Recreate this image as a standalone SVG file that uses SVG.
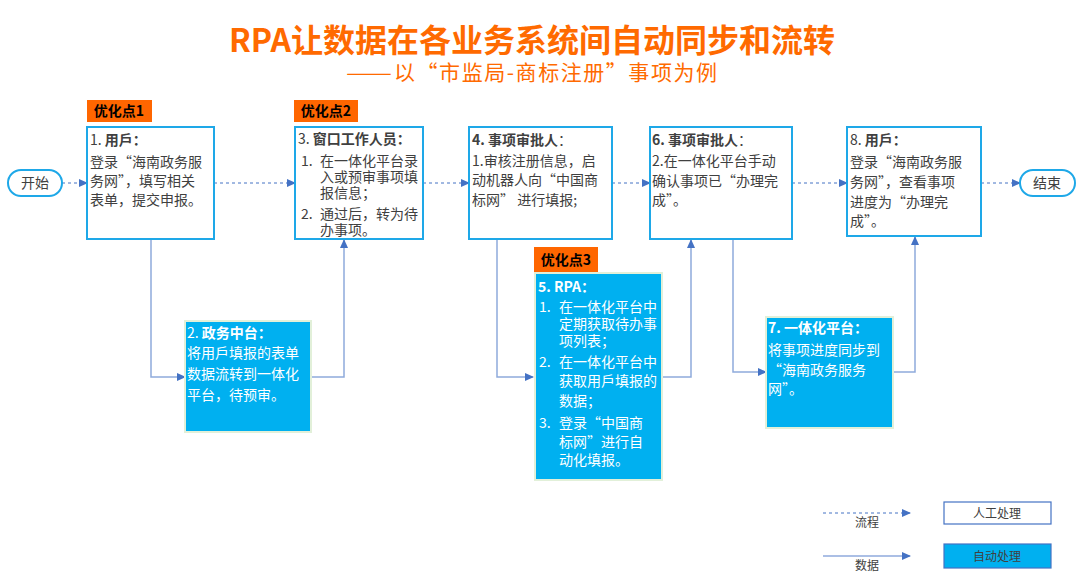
<svg xmlns="http://www.w3.org/2000/svg" width="1080" height="582" viewBox="0 0 1080 582">
<defs>
<marker id="arr" markerUnits="userSpaceOnUse" markerWidth="9" markerHeight="8" refX="8" refY="4" orient="auto">
<path d="M0,0 L9,4 L0,8 Z" fill="#4472C4"/>
</marker>
<style>
text{font-family:"Noto Sans CJK SC","Microsoft YaHei",sans-serif;font-size:14px}
.manual{fill:#fff;stroke:#1EA8E8;stroke-width:2}
.auto{fill:#00B0F0;stroke:#E2F0D9;stroke-width:2}
.badge{fill:#FF6600}
.bt{font-weight:bold;fill:#000;text-anchor:middle}
.dk{fill:#404040}
.wt{fill:#fff}
.b{font-weight:bold}
.flow{fill:none;stroke:#4472C4;stroke-width:1;stroke-dasharray:3 3;marker-end:url(#arr)}
.data{fill:none;stroke:#8FAADC;stroke-width:1.5;marker-end:url(#arr)}
.pill{fill:#fff;stroke:#1EA8E8;stroke-width:2}
.sub{font-size:21px;fill:#FF6A00}
</style>
</defs>
<rect width="1080" height="582" fill="#fff"/>
<g id="title">
<text x="532" y="52" text-anchor="middle" style="font-size:32px;font-weight:bold;fill:#FF6A00">RPA让数据在各业务系统间自动同步和流转</text>
<text x="346" y="80" class="sub" textLength="46" lengthAdjust="spacingAndGlyphs">——</text>
<text x="394" y="80" class="sub" textLength="323" lengthAdjust="spacing">以“市监局-商标注册”事项为例</text>
</g>
<g id="connectors">
<line class="flow" x1="62" y1="183" x2="87" y2="183"/>
<line class="flow" x1="214" y1="183" x2="295" y2="183"/>
<line class="flow" x1="423" y1="183" x2="469" y2="183"/>
<line class="flow" x1="612" y1="183" x2="650" y2="183"/>
<line class="flow" x1="792" y1="183" x2="847" y2="183"/>
<line class="flow" x1="981" y1="183" x2="1020" y2="183"/>
<polyline class="data" points="151,239 151,377 185,377"/>
<polyline class="data" points="311,377 344,377 344,240"/>
<polyline class="data" points="497,239 497,377 533,377"/>
<polyline class="data" points="662,377 691,377 691,240"/>
<polyline class="data" points="733,239 733,372 766,372"/>
<polyline class="data" points="893,372 915,372 915,237"/>
</g>
<g id="start">
<rect class="pill" x="8" y="170" width="54" height="26" rx="13"/>
<text x="35" y="188" text-anchor="middle" class="dk">开始</text>
</g>
<g id="end">
<rect class="pill" x="1020" y="170" width="55" height="26" rx="13"/>
<text x="1047" y="188" text-anchor="middle" class="dk">结束</text>
</g>
<g id="badge1">
<rect class="badge" x="87" y="100" width="65" height="22"/>
<text x="119" y="116" class="bt">优化点1</text>
</g>
<g id="badge2">
<rect class="badge" x="294" y="100" width="64" height="22"/>
<text x="326" y="116" class="bt">优化点2</text>
</g>
<g id="badge3">
<rect class="badge" x="534" y="247" width="64" height="25"/>
<text x="566" y="265" class="bt">优化点3</text>
</g>
<g id="node1">
<rect class="manual" x="87" y="127" width="127" height="112"/>
<text x="90" y="145" class="dk">1. <tspan class="b">用戶：</tspan></text>
<text x="90" y="167" class="dk">登录“海南政务服</text>
<text x="90" y="186" class="dk">务网”，填写相关</text>
<text x="90" y="205" class="dk">表单，提交申报。</text>
</g>
<g id="node3">
<rect class="manual" x="295" y="127" width="128" height="112"/>
<text x="298" y="144" class="dk">3. <tspan class="b">窗口工作人员：</tspan></text>
<text x="301" y="166" class="dk">1.</text>
<text x="320" y="166" class="dk">在一体化平台录</text>
<text x="320" y="182" class="dk">入或预审事项填</text>
<text x="320" y="198" class="dk">报信息；</text>
<text x="301" y="219" class="dk">2.</text>
<text x="320" y="219" class="dk">通过后，转为待</text>
<text x="320" y="235" class="dk">办事项。</text>
</g>
<g id="node4">
<rect class="manual" x="469" y="127" width="143" height="112"/>
<text x="472" y="145" class="dk"><tspan class="b">4. 事项审批人</tspan>：</text>
<text x="472" y="166" class="dk">1.审核注册信息，启</text>
<text x="472" y="185" class="dk">动机器人向“中国商</text>
<text x="472" y="205" class="dk">标网” 进行填报;</text>
</g>
<g id="node6">
<rect class="manual" x="650" y="127" width="142" height="112"/>
<text x="652" y="145" class="dk"><tspan class="b">6. 事项审批人</tspan>：</text>
<text x="652" y="166" class="dk">2.在一体化平台手动</text>
<text x="652" y="186" class="dk">确认事项已“办理完</text>
<text x="652" y="205" class="dk">成”。</text>
</g>
<g id="node8">
<rect class="manual" x="847" y="127" width="134" height="109"/>
<text x="850" y="145" class="dk">8. <tspan class="b">用戶：</tspan></text>
<text x="850" y="167" class="dk">登录“海南政务服</text>
<text x="850" y="187" class="dk">务网”，查看事项</text>
<text x="850" y="207" class="dk">进度为“办理完</text>
<text x="850" y="226" class="dk">成”。</text>
</g>
<g id="node2">
<rect class="auto" x="185" y="321" width="126" height="111"/>
<text x="187" y="338" class="wt">2. <tspan class="b">政务中台：</tspan></text>
<text x="187" y="358" class="wt">将用戶填报的表单</text>
<text x="187" y="379" class="wt">数据流转到一体化</text>
<text x="187" y="400" class="wt">平台，待预审。</text>
</g>
<g id="node5">
<rect class="auto" x="535" y="273" width="127" height="207"/>
<text x="538" y="292" class="wt b">5. RPA：</text>
<text x="539" y="312" class="wt">1.</text>
<text x="559" y="312" class="wt">在一体化平台中</text>
<text x="559" y="329" class="wt">定期获取待办事</text>
<text x="559" y="346" class="wt">项列表；</text>
<text x="539" y="367" class="wt">2.</text>
<text x="559" y="367" class="wt">在一体化平台中</text>
<text x="559" y="386" class="wt">获取用戶填报的</text>
<text x="559" y="406" class="wt">数据；</text>
<text x="539" y="428" class="wt">3.</text>
<text x="559" y="428" class="wt">登录“中国商</text>
<text x="559" y="447" class="wt">标网”进行自</text>
<text x="559" y="465" class="wt">动化填报。</text>
</g>
<g id="node7">
<rect class="auto" x="766" y="317" width="127" height="111"/>
<text x="768" y="333" class="wt b">7. 一体化平台：</text>
<text x="768" y="355" class="wt">将事项进度同步到</text>
<text x="768" y="375" class="wt">“海南政务服务</text>
<text x="768" y="394" class="wt">网”。</text>
</g>
<g id="legend">
<line class="flow" x1="823" y1="513" x2="910" y2="513"/>
<text x="867" y="527" text-anchor="middle" class="dk" style="font-size:12px">流程</text>
<line class="data" x1="823" y1="556" x2="910" y2="556"/>
<text x="867" y="570" text-anchor="middle" class="dk" style="font-size:12px">数据</text>
<rect x="944" y="502" width="107" height="22" fill="#fff" stroke="#4472C4" stroke-width="1.2"/>
<text x="997" y="518" text-anchor="middle" class="dk" style="font-size:12px">人工处理</text>
<rect x="944" y="544" width="107" height="24" fill="#00B0F0" stroke="#4472C4" stroke-width="1.2"/>
<text x="997" y="561" text-anchor="middle" class="dk" style="font-size:12px">自动处理</text>
</g>
</svg>
